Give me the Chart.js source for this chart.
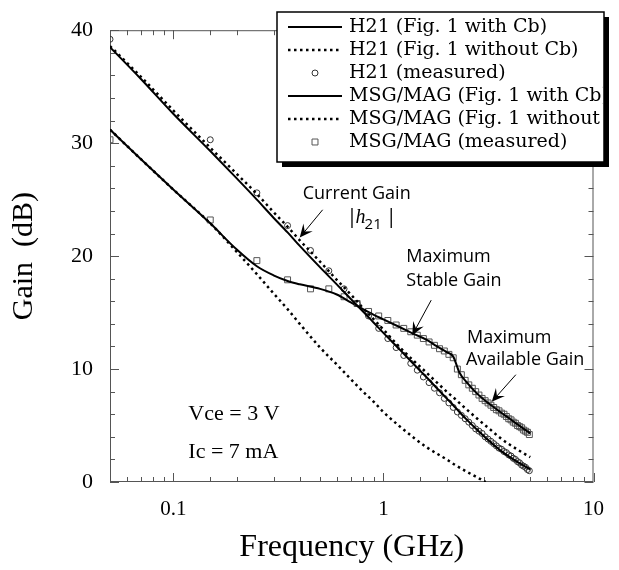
<!DOCTYPE html>
<html>
<head>
<meta charset="utf-8">
<script src="https://cdn.jsdelivr.net/npm/chart.js@4.4.1/dist/chart.umd.min.js"></script>
<style>
  html, body { margin: 0; padding: 0; background: #fff; }
  #wrap { width: 619px; height: 570px; }
</style>
</head>
<body>
<div id="wrap"><canvas id="gainChart" width="619" height="570"></canvas></div>
<script>
// frequencies (GHz) of the model curves
const freqModel = [0.05, 0.07, 0.1, 0.15, 0.2, 0.25, 0.3, 0.35, 0.4, 0.5, 0.6, 0.7, 0.8, 0.9, 1.0,
                   1.2, 1.4, 1.6, 1.8, 2.0, 2.15, 2.3, 2.5, 2.8, 3.2, 3.6, 4.0, 4.5, 5.0];
const h21WithCb    = [38.5, 35.7, 32.6, 29.3, 26.9, 25.0, 23.4, 22.1, 20.9, 19.0, 17.5, 16.2, 15.1, 14.1, 13.2,
                      11.7, 10.4, 9.3, 8.3, 7.4, 6.8, 6.2, 5.5, 4.6, 3.6, 2.8, 2.2, 1.6, 1.1];
const h21WithoutCb = [38.6, 35.9, 32.9, 29.6, 27.3, 25.5, 23.9, 22.6, 21.4, 19.5, 17.9, 16.6, 15.4, 14.4, 13.5,
                      11.9, 10.7, 9.7, 8.8, 8.0, 7.5, 7.0, 6.4, 5.6, 4.7, 3.9, 3.3, 2.7, 2.2];
const msgWithCb    = [31.2, 28.6, 25.9, 22.9, 20.6, 19.1, 18.3, 17.8, 17.5, 17.1, 16.6, 15.9, 15.3, 14.8, 14.4,
                      13.7, 13.1, 12.6, 12.0, 11.5, 11.1, 9.7, 8.8, 7.8, 6.9, 6.2, 5.6, 4.9, 4.3];

// MSG/MAG without Cb runs into 0 dB around 3 GHz
const freqMsgNoCb  = [0.05, 0.07, 0.1, 0.15, 0.2, 0.25, 0.3, 0.35, 0.4, 0.5, 0.6, 0.7, 0.8, 0.9, 1.0,
                      1.2, 1.4, 1.6, 1.8, 2.0, 2.2, 2.5, 2.8, 3.07];
const msgWithoutCb = [31.2, 28.6, 25.9, 22.9, 20.4, 18.4, 16.7, 15.3, 14.0, 11.9, 10.4, 9.1, 8.0, 7.1, 6.2,
                      4.9, 3.9, 3.1, 2.5, 2.0, 1.5, 0.9, 0.4, 0];

// measured points (0.1 GHz steps)
const freqMeas = [0.05, 0.15, 0.25, 0.35, 0.45, 0.55, 0.65, 0.75, 0.85, 0.95,
                  1.05, 1.15, 1.25, 1.35, 1.45, 1.55, 1.65, 1.75, 1.85, 1.95,
                  2.05, 2.15, 2.25, 2.35, 2.45, 2.55, 2.65, 2.75, 2.85, 2.95,
                  3.05, 3.15, 3.25, 3.35, 3.45, 3.55, 3.65, 3.75, 3.85, 3.95,
                  4.05, 4.15, 4.25, 4.35, 4.45, 4.55, 4.65, 4.75, 4.85, 4.95];
const h21Meas = [39.2, 30.3, 25.6, 22.7, 20.5, 18.7, 17.1, 15.8, 14.7, 13.6,
                 12.7, 11.9, 11.2, 10.5, 9.9, 9.3, 8.8, 8.3, 7.9, 7.4,
                 7.0, 6.6, 6.2, 5.9, 5.6, 5.3, 5.0, 4.7, 4.5, 4.3,
                 4.0, 3.8, 3.6, 3.4, 3.2, 3.0, 2.9, 2.7, 2.6, 2.4,
                 2.3, 2.1, 2.0, 1.8, 1.7, 1.5, 1.4, 1.3, 1.1, 1.0];
const msgMeas = [30.3, 23.2, 19.6, 17.9, 17.1, 17.1, 16.4, 15.8, 15.1, 14.7,
                 14.3, 13.9, 13.6, 13.3, 13.0, 12.7, 12.4, 12.1, 11.8, 11.6,
                 11.3, 11.0, 10.0, 9.5, 9.0, 8.6, 8.3, 8.0, 7.7, 7.4,
                 7.2, 7.0, 6.8, 6.6, 6.4, 6.3, 6.1, 6.0, 5.8, 5.6,
                 5.5, 5.3, 5.2, 5.0, 4.9, 4.8, 4.6, 4.5, 4.4, 4.2];

const seriesLabels = ['H21 (Fig. 1 with Cb)', 'H21 (Fig. 1 without Cb)', 'H21 (measured)',
                      'MSG/MAG (Fig. 1 with Cb)', 'MSG/MAG (Fig. 1 without Cb)', 'MSG/MAG (measured)'];
const xTickLabels = [0.1, 1, 10];
const yTickLabels = [0, 10, 20, 30, 40];

// text notes, anchored in data coordinates (GHz, dB)
const notes = [
    { text: 'Current Gain', f: 0.413, g: 25.5 },
    { text: 'Maximum', f: 1.285, g: 19.9 },
    { text: 'Stable Gain', f: 1.285, g: 17.8 },
    { text: 'Maximum', f: 2.5, g: 12.8 },
    { text: 'Available Gain', f: 2.47, g: 10.8 }
];
const arrows = [
    { from: [0.514, 24.1], to: [0.40, 21.65] },
    { from: [1.689, 16.1], to: [1.372, 13.0] },
    { from: [4.27, 9.5], to: [3.28, 7.1] }
];
const biasNotes = [
    { text: 'Vce = 3 V', f: 0.118, g: 6.0 },
    { text: 'Ic = 7 mA', f: 0.118, g: 2.6 }
];

const serif = "'Liberation Serif', 'Times New Roman', serif";
const legendFont = "'DejaVu Serif', serif";
const sans = "'Open Sans', 'DejaVu Sans', sans-serif";

function pts(xs, ys) {
    return xs.map((x, i) => ({ x: x, y: ys[i] }));
}

function isDecade(v) {
    const l = Math.log10(v);
    return Math.abs(l - Math.round(l)) < 1e-6;
}

// frame + inward tick marks on all four sides
const frameTicks = {
    id: 'frameTicks',
    beforeDatasetsDraw(chart) {
        const { ctx, chartArea: a, scales: { x, y } } = chart;
        ctx.save();
        ctx.strokeStyle = '#555';
        ctx.lineWidth = 1;
        ctx.strokeRect(a.left + 0.5, a.top + 0.5, a.width - 1, a.height - 1);
        ctx.beginPath();
        x.ticks.forEach(t => {
            const px = Math.round(x.getPixelForValue(t.value)) + 0.5;
            const len = isDecade(t.value) ? 9 : 5;
            ctx.moveTo(px, a.bottom); ctx.lineTo(px, a.bottom - len);
            ctx.moveTo(px, a.top); ctx.lineTo(px, a.top + len);
        });
        for (let v = y.min; v <= y.max; v += 2) {
            const py = Math.round(y.getPixelForValue(v)) + 0.5;
            const len = v % 10 === 0 ? 9 : 5;
            ctx.moveTo(a.left, py); ctx.lineTo(a.left + len, py);
            ctx.moveTo(a.right, py); ctx.lineTo(a.right - len, py);
        }
        ctx.stroke();
        ctx.restore();
    }
};

function drawMarker(ctx, style, cx, cy, r) {
    ctx.beginPath();
    if (style === 'rect') {
        const s = r * Math.SQRT1_2;
        ctx.rect(cx - s, cy - s, 2 * s, 2 * s);
    } else {
        ctx.arc(cx, cy, r, 0, Math.PI * 2);
    }
    ctx.stroke();
}

// boxed legend with drop shadow, text clipped by the box like the original
const boxLegend = {
    id: 'boxLegend',
    afterDraw(chart, args, o) {
        const ctx = chart.ctx;
        const w = o.right - o.left, h = o.bottom - o.top;
        ctx.save();
        ctx.fillStyle = '#000';
        ctx.fillRect(o.left + 5, o.top + 5, w, h);
        ctx.fillStyle = '#fff';
        ctx.fillRect(o.left, o.top, w, h);
        ctx.strokeStyle = '#000';
        ctx.lineWidth = 1.5;
        ctx.strokeRect(o.left, o.top, w, h);
        ctx.beginPath();
        ctx.rect(o.left + 1, o.top + 1, w - 2, h - 2);
        ctx.clip();
        ctx.font = o.font;
        ctx.textBaseline = 'middle';
        ctx.textAlign = 'left';
        chart.data.datasets.forEach((ds, i) => {
            const cy = o.top + o.firstRow + i * o.rowGap;
            ctx.strokeStyle = ds.borderColor;
            if (ds.showLine === false) {
                ctx.lineWidth = ds.pointBorderWidth;
                drawMarker(ctx, ds.pointStyle, (o.sampleX0 + o.sampleX1) / 2, cy, ds.pointRadius);
            } else {
                ctx.lineWidth = ds.borderWidth;
                ctx.setLineDash(ds.borderDash || []);
                ctx.beginPath();
                ctx.moveTo(o.sampleX0, cy);
                ctx.lineTo(o.sampleX1, cy);
                ctx.stroke();
                ctx.setLineDash([]);
            }
            ctx.fillStyle = '#000';
            ctx.fillText(ds.label, o.textX, cy);
        });
        ctx.restore();
    }
};

// text notes and arrows
const noteLayer = {
    id: 'noteLayer',
    afterDatasetsDraw(chart) {
        const { ctx, scales: { x, y } } = chart;
        ctx.save();
        ctx.fillStyle = '#000';
        ctx.textBaseline = 'middle';
        ctx.textAlign = 'left';
        ctx.font = '18px ' + sans;
        notes.forEach(n => ctx.fillText(n.text, x.getPixelForValue(n.f), y.getPixelForValue(n.g)));

        // |h21|
        let hx = x.getPixelForValue(0.668);
        const hy = y.getPixelForValue(23.4);
        ctx.font = '20px ' + sans;
        ctx.fillText('|', hx, hy);
        hx += 9;
        ctx.font = 'italic 20px ' + serif;
        ctx.fillText('h', hx, hy);
        hx += ctx.measureText('h').width - 1;
        ctx.font = '15px ' + sans;
        ctx.fillText('21', hx, hy + 7);
        hx += ctx.measureText('21').width + 4;
        ctx.font = '20px ' + sans;
        ctx.fillText('|', hx, hy);

        ctx.font = '22px ' + serif;
        biasNotes.forEach(n => ctx.fillText(n.text, x.getPixelForValue(n.f), y.getPixelForValue(n.g)));

        ctx.strokeStyle = '#000';
        ctx.lineWidth = 1;
        arrows.forEach(a => {
            const x0 = x.getPixelForValue(a.from[0]), y0 = y.getPixelForValue(a.from[1]);
            const x1 = x.getPixelForValue(a.to[0]), y1 = y.getPixelForValue(a.to[1]);
            const ang = Math.atan2(y1 - y0, x1 - x0);
            ctx.beginPath();
            ctx.moveTo(x0, y0);
            ctx.lineTo(x1 - 6 * Math.cos(ang), y1 - 6 * Math.sin(ang));
            ctx.stroke();
            const L = 13, W = 6;
            ctx.beginPath();
            ctx.moveTo(x1, y1);
            ctx.lineTo(x1 - L * Math.cos(ang) + W * Math.sin(ang), y1 - L * Math.sin(ang) - W * Math.cos(ang));
            ctx.lineTo(x1 - 0.6 * L * Math.cos(ang), y1 - 0.6 * L * Math.sin(ang));
            ctx.lineTo(x1 - L * Math.cos(ang) - W * Math.sin(ang), y1 - L * Math.sin(ang) + W * Math.cos(ang));
            ctx.closePath();
            ctx.fill();
        });
        ctx.restore();
    }
};

const modelLine = (label, xs, ys, dashed) => ({
    label: label,
    data: pts(xs, ys),
    showLine: true,
    borderColor: '#000',
    borderWidth: dashed ? 2.5 : 2,
    borderDash: dashed ? [2.5, 3.5] : [],
    pointRadius: 0,
    cubicInterpolationMode: 'monotone'
});

const measured = (label, ys, style, r, color) => ({
    label: label,
    data: pts(freqMeas, ys),
    showLine: false,
    pointStyle: style,
    pointRadius: r,
    pointBorderWidth: 1,
    borderColor: color,
    pointBorderColor: color,
    pointBackgroundColor: 'rgba(255,255,255,0)'
});

const ctx = document.getElementById('gainChart').getContext('2d');
const gainChart = new Chart(ctx, {
    type: 'scatter',
    data: {
        datasets: [
            modelLine(seriesLabels[0], freqModel, h21WithCb, false),
            modelLine(seriesLabels[1], freqModel, h21WithoutCb, true),
            measured(seriesLabels[2], h21Meas, 'circle', 3, '#333'),
            modelLine(seriesLabels[3], freqModel, msgWithCb, false),
            modelLine(seriesLabels[4], freqMsgNoCb, msgWithoutCb, true),
            measured(seriesLabels[5], msgMeas, 'rect', 4.2, '#555')
        ]
    },
    options: {
        responsive: false,
        animation: false,
        devicePixelRatio: 1,
        layout: {
            padding: { left: 0, right: 25, top: 22, bottom: 0 }
        },
        scales: {
            x: {
                type: 'logarithmic',
                position: 'bottom',
                min: 0.05,
                max: 10,
                afterFit: function(scale) { scale.height = 88; },
                grid: { display: false, drawTicks: false },
                border: { display: false },
                ticks: {
                    autoSkip: false,
                    maxRotation: 0,
                    padding: 15,
                    color: '#000',
                    font: { family: serif, size: 21 },
                    callback: function(value) {
                        return xTickLabels.some(t => Math.abs(t - value) < 1e-9) ? String(value) : '';
                    }
                },
                title: {
                    display: true,
                    text: 'Frequency (GHz)',
                    color: '#000',
                    font: { family: serif, size: 32 },
                    padding: { top: 0, bottom: 3 }
                }
            },
            y: {
                type: 'linear',
                position: 'left',
                min: 0,
                max: 40,
                afterFit: function(scale) { scale.width = 110; },
                grid: { display: false, drawTicks: false },
                border: { display: false },
                ticks: {
                    stepSize: 10,
                    padding: 17,
                    color: '#000',
                    font: { family: serif, size: 22 },
                    callback: function(value) {
                        return yTickLabels.includes(value) ? String(value) : '';
                    }
                },
                title: {
                    display: true,
                    text: 'Gain  (dB)',
                    color: '#000',
                    font: { family: serif, size: 30 },
                    padding: { top: 6, bottom: 0 }
                }
            }
        },
        plugins: {
            legend: { display: false },
            tooltip: { enabled: false },
            boxLegend: {
                left: 277, top: 12, right: 604, bottom: 162,
                firstRow: 15, rowGap: 23,
                sampleX0: 288, sampleX1: 342, textX: 349,
                font: '19px ' + legendFont
            }
        }
    },
    plugins: [frameTicks, noteLayer, boxLegend]
});
</script>
</body>
</html>
